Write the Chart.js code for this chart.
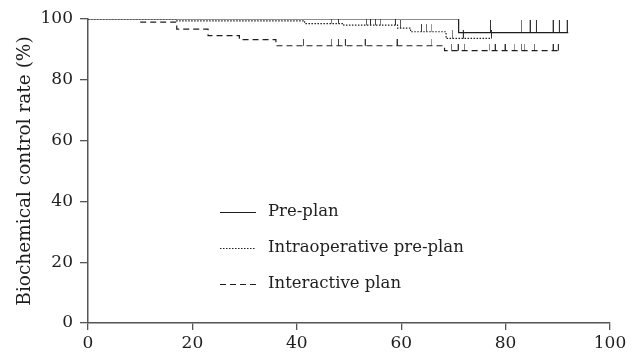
<!DOCTYPE html>
<html>
<head>
<meta charset="utf-8">
<script src="https://cdn.jsdelivr.net/npm/chart.js@4/dist/chart.umd.min.js"></script>
<style>
  html, body { margin: 0; padding: 0; background: #fff; }
  #wrap { width: 638px; height: 354px; }
</style>
</head>
<body>
<div id="wrap"><canvas id="km"></canvas></div>
<script>
// Kaplan-Meier steps (time, rate after that time)
const preTimes = [0, 71, 92];
const preRates = [100, 95.5, 95.5];
const preCensored = [77, 83, 84.6, 85.8, 89, 90.2, 91.7];

const intraTimes = [0, 17, 41.5, 49, 59.3, 61.8, 68.6, 77.2];
const intraRates = [100, 99.4, 98.5, 98.0, 97.0, 95.8, 93.6, 93.6];
const intraCensored = [46.6, 47.9, 53.3, 54, 55, 56, 58.8, 59.8, 63.8, 64.8, 65.8, 69.8, 71.8, 77.2];

const interTimes = [10, 17, 23, 29, 36, 68.3, 90];
const interRates = [99, 96.7, 94.5, 93.2, 91.2, 89.6, 89.6];
const interCensored = [41.2, 46.6, 47.9, 49.2, 53, 59.1, 65.8, 69.6, 70.8, 72.1, 76.9, 77.9, 79.8, 81.7, 83, 83.6, 85.5, 89, 90];

const seriesNames = ["Pre-plan", "Intraoperative pre-plan", "Interactive plan"];
const xTicks = [0, 20, 40, 60, 80, 100];
const yTicks = [0, 20, 40, 60, 80, 100];

const ink = '#1e1e1e';
const font = "'DejaVu Serif', 'Liberation Serif', serif";

// value of the step curve at time t
function rateAt(times, rates, t) {
    let r = rates[0];
    for (let i = 0; i < times.length; i++) {
        if (times[i] <= t) r = rates[i];
    }
    return r;
}

function points(times, rates) {
    return times.map((t, i) => ({ x: t, y: rates[i] }));
}

function censorPoints(list, times, rates) {
    return list.map(t => ({ x: t, y: rateAt(times, rates, t) }));
}

// small upward tick used for censored marks
function tickMark(len) {
    const c = document.createElement('canvas');
    c.width = 2;
    c.height = len * 2;
    const g = c.getContext('2d');
    g.fillStyle = '#333';
    g.fillRect(1, 0, 1, len);
    return c;
}

const dashes = [[], [1.5, 1.5], [6, 4]];

function curve(label, times, rates, dash) {
    return {
        label: label,
        data: points(times, rates),
        stepped: true,
        borderColor: ink,
        borderWidth: 1.2,
        borderDash: dash,
        pointRadius: 0,
        fill: false
    };
}

function censors(list, times, rates, len) {
    return {
        label: '',
        type: 'scatter',
        data: censorPoints(list, times, rates),
        pointStyle: tickMark(len),
        showLine: false
    };
}

// legend drawn inside the plot
const innerLegend = {
    id: 'innerLegend',
    afterDraw(chart) {
        const ctx = chart.ctx;
        const a = chart.chartArea;
        const x0 = a.left + 132, x1 = x0 + 36, tx = x1 + 12;
        const rows = [212, 248, 284];
        ctx.save();
        ctx.font = "16.5px " + font;
        ctx.fillStyle = ink;
        ctx.strokeStyle = ink;
        ctx.lineWidth = 1.2;
        ctx.textBaseline = 'middle';
        seriesNames.forEach((name, i) => {
            const y = rows[i] + 0.5;
            ctx.setLineDash(dashes[i]);
            ctx.beginPath();
            ctx.moveTo(x0, y);
            ctx.lineTo(x1, y);
            ctx.stroke();
            ctx.fillText(name, tx, rows[i]);
        });
        ctx.restore();
    }
};

new Chart(document.getElementById('km'), {
    type: 'line',
    data: {
        datasets: [
            curve(seriesNames[0], preTimes, preRates, dashes[0]),
            curve(seriesNames[1], intraTimes, intraRates, dashes[1]),
            curve(seriesNames[2], interTimes, interRates, dashes[2]),
            censors(preCensored, preTimes, preRates, 13),
            censors(intraCensored, intraTimes, intraRates, 8),
            censors(interCensored, interTimes, interRates, 7)
        ]
    },
    options: {
        responsive: true,
        maintainAspectRatio: false,
        animation: false,
        layout: { padding: { left: 8, right: 28, top: 19, bottom: 0 } },
        plugins: {
            legend: { display: false },
            tooltip: { enabled: false }
        },
        scales: {
            x: {
                type: 'linear',
                min: 0,
                max: 100,
                afterBuildTicks: s => { s.ticks = xTicks.map(v => ({ value: v })); },
                afterFit: s => { s.height = 31; },
                grid: { drawOnChartArea: false, tickLength: 7, color: '#555', lineWidth: 1.3 },
                border: { color: '#555', width: 1.5 },
                ticks: { color: ink, font: { family: font, size: 17 }, padding: 3 }
            },
            y: {
                min: 0,
                max: 100,
                afterBuildTicks: s => { s.ticks = yTicks.map(v => ({ value: v })); },
                afterFit: s => { s.width = 80; },
                grid: { drawOnChartArea: false, tickLength: 8, color: '#555', lineWidth: 1.3 },
                border: { color: '#555', width: 1.5 },
                ticks: { color: ink, font: { family: font, size: 17 }, padding: 7 },
                title: {
                    display: true,
                    text: 'Biochemical control rate (%)',
                    color: ink,
                    font: { family: font, size: 18.5 },
                    padding: { top: 6, bottom: 2 }
                }
            }
        }
    },
    plugins: [innerLegend]
});
</script>
</body>
</html>
